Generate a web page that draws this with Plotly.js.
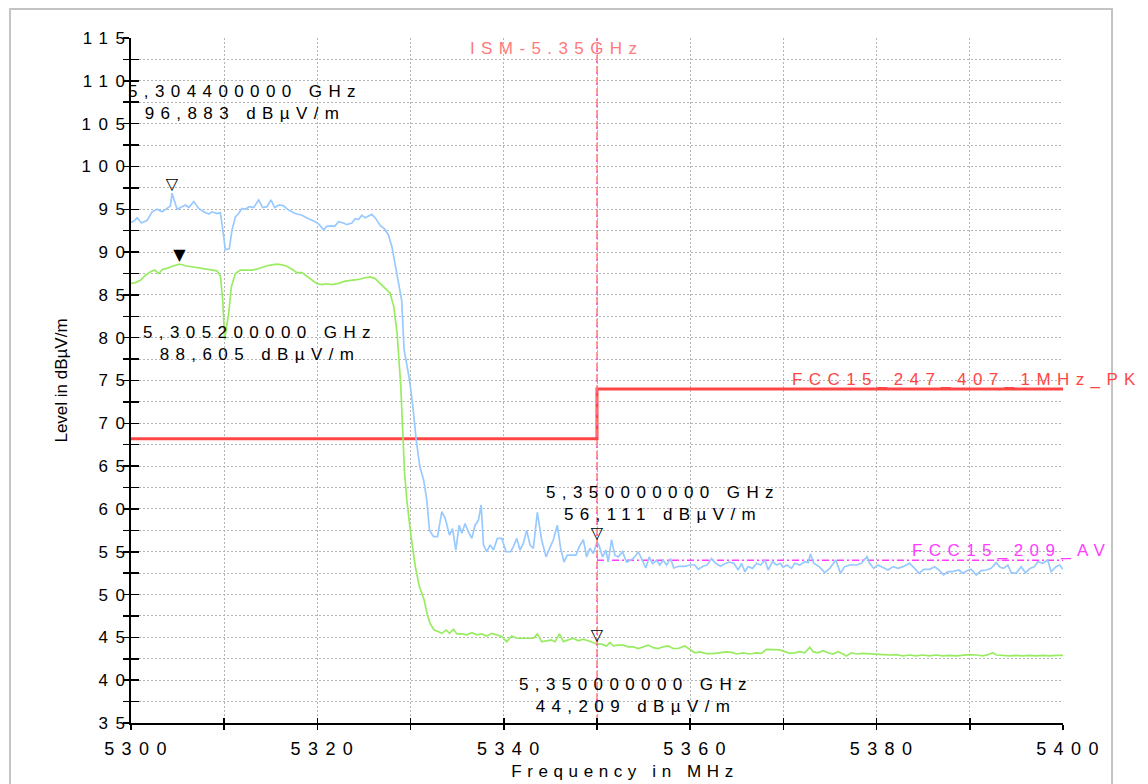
<!DOCTYPE html>
<html>
<head>
<meta charset="utf-8">
<script src="https://cdn.plot.ly/plotly-3.0.1.min.js"></script>
<style>
html, body { margin: 0; padding: 0; background: #ffffff; }
#chart { width: 1148px; height: 784px; }
.xtick text { letter-spacing: 7.4px; }
.ytick text { letter-spacing: 7.6px; }
.g-xtitle text { letter-spacing: 5.6px; }
.annotation-text { letter-spacing: 6.4px; }
.g-xtitle { transform: translate(28px, -4px); }
</style>
</head>
<body>
<div id="chart"></div>
<script>
// ---- Peak detector trace (blue) ----
const peakFreq = [
  5300.0, 5300.3, 5300.66, 5301.12, 5301.73, 5302.27, 5302.8, 5303.34, 5303.87, 5304.23,
  5304.4, 5304.95, 5305.48, 5305.84, 5306.2, 5306.73, 5307.27, 5307.8, 5308.34, 5308.7,
  5309.23, 5309.59, 5309.95, 5310.12, 5310.55, 5310.84, 5311.2, 5311.55, 5311.9, 5312.27,
  5312.7, 5313.16, 5313.7, 5314.12, 5314.59, 5315.02, 5315.41, 5315.91, 5316.37, 5316.91,
  5317.62, 5318.34, 5319.05, 5319.77, 5320.2, 5320.66, 5321.02, 5321.48, 5321.84, 5322.27,
  5322.8, 5323.16, 5323.7, 5324.05, 5324.41, 5324.77, 5325.12, 5325.48, 5325.84, 5326.27,
  5326.73, 5327.2, 5327.62, 5328.0, 5328.5, 5329.05, 5329.3, 5329.88, 5330.24, 5330.6,
  5331.0, 5331.4, 5331.74, 5332.03, 5332.46, 5332.89, 5333.35, 5333.71, 5334.17, 5334.5,
  5334.85, 5335.21, 5335.5, 5335.85, 5336.21, 5336.57, 5336.92, 5337.28, 5337.57, 5337.82,
  5338.17, 5338.53, 5338.89, 5339.31, 5339.78, 5340.24, 5340.74, 5341.03, 5341.39, 5341.74,
  5342.1, 5342.46, 5342.81, 5343.17, 5343.6, 5344.06, 5344.53, 5344.96, 5345.31, 5345.74,
  5346.1, 5346.46, 5346.81, 5347.28, 5347.74, 5348.1, 5348.53, 5348.89, 5349.24, 5349.6,
  5350.0, 5350.2, 5350.6, 5350.96, 5351.2, 5351.56, 5351.92, 5352.28, 5352.74, 5353.17,
  5353.6, 5354.06, 5354.42, 5354.78, 5355.24, 5355.6, 5355.96, 5356.39, 5356.74, 5357.1,
  5357.46, 5357.89, 5358.24, 5358.81, 5359.42, 5359.96, 5360.5, 5360.85, 5361.39, 5361.81,
  5362.28, 5362.74, 5363.24, 5363.71, 5364.17, 5364.69, 5365.15, 5365.51, 5365.87, 5366.22,
  5366.69, 5367.12, 5367.55, 5368.01, 5368.37, 5368.83, 5369.26, 5369.69, 5369.97, 5370.4,
  5370.87, 5371.22, 5371.76, 5372.29, 5372.65, 5372.9, 5373.26, 5373.83, 5374.44, 5374.97,
  5375.62, 5376.12, 5376.58, 5377.12, 5377.83, 5378.37, 5378.97, 5379.26, 5379.69, 5380.15,
  5380.69, 5381.22, 5381.76, 5382.3, 5382.83, 5383.55, 5384.08, 5384.55, 5385.05, 5385.69,
  5386.22, 5386.69, 5387.19, 5387.65, 5388.12, 5388.83, 5389.26, 5389.69, 5390.15, 5390.69,
  5391.22, 5391.76, 5392.3, 5392.83, 5393.26, 5393.62, 5394.08, 5394.44, 5394.97, 5395.51,
  5395.97, 5396.47, 5396.94, 5397.3, 5397.83, 5398.37, 5398.72, 5399.26, 5399.62, 5400.0
];
const peakLevel = [
  93.5, 93.6, 94.0, 93.4, 93.7, 94.7, 95.0, 94.7, 95.1, 95.4,
  96.88, 95.0, 95.3, 95.5, 95.2, 95.9, 95.1, 94.7, 94.45, 94.7,
  94.5, 94.6, 91.8, 90.25, 90.4, 92.6, 94.1, 94.5, 95.1, 95.0,
  95.3, 95.2, 96.1, 95.2, 95.3, 96.1, 95.2, 95.5, 95.4, 94.9,
  94.5, 94.3, 93.9, 93.55, 93.2, 92.6, 93.0, 93.05, 93.0, 93.55,
  93.4, 93.2, 93.4, 93.9, 93.8, 94.3, 94.0, 94.2, 94.4, 93.9,
  93.1, 92.7, 92.0, 90.6, 87.7, 84.3, 78.6, 75.1, 72.0, 68.05,
  64.9, 63.4, 61.0, 57.5, 56.76, 56.76, 59.68, 58.9, 56.95, 57.7,
  55.2, 58.1, 57.15, 58.3, 57.3, 56.56, 58.1, 58.7, 60.46, 55.8,
  55.0, 55.8, 55.2, 56.56, 56.56, 55.0, 55.0, 55.6, 56.56, 55.2,
  56.0, 57.5, 55.8, 55.4, 59.6, 56.4, 54.4, 55.6, 56.4, 58.1,
  55.4, 53.8, 54.6, 54.6, 54.6, 55.6, 56.4, 54.4, 55.4, 54.8,
  56.11, 55.8, 54.4, 55.2, 53.8, 56.4, 54.6, 54.4, 55.0, 53.8,
  54.0, 54.4, 55.0, 54.2, 53.1, 54.4, 53.6, 54.0, 53.45, 54.0,
  53.45, 54.2, 53.1, 53.3, 53.3, 53.45, 53.45, 52.95, 53.3, 53.45,
  54.2, 53.65, 53.3, 53.6, 53.8, 53.65, 52.87, 53.65, 52.67, 53.26,
  53.06, 53.65, 53.45, 54.04, 52.87, 53.84, 53.45, 53.65, 53.18, 53.45,
  53.06, 53.65, 53.45, 53.84, 53.73, 54.74, 53.65, 53.26, 52.56, 53.06,
  54.04, 52.48, 53.26, 53.45, 53.45, 53.65, 54.43, 53.65, 53.06, 53.45,
  53.18, 52.87, 53.26, 53.06, 53.26, 53.65, 53.06, 52.48, 52.95, 52.95,
  53.26, 52.87, 52.29, 52.67, 52.67, 52.87, 52.48, 52.79, 52.95, 52.29,
  52.79, 52.87, 53.06, 53.73, 53.18, 53.06, 53.45, 52.56, 52.48, 53.26,
  52.56, 53.06, 53.26, 53.84, 53.65, 54.04, 52.67, 53.26, 53.45, 52.95
];

// ---- Average detector trace (green) ----
const avgFreq = [
  5300.0, 5300.4, 5301.02, 5301.55, 5302.09, 5302.55, 5302.98, 5303.41, 5303.87, 5304.41,
  5304.95, 5305.2, 5305.84, 5306.37, 5306.91, 5307.45, 5307.98, 5308.7, 5309.23, 5309.59,
  5309.84, 5310.05, 5310.48, 5310.77, 5311.2, 5311.73, 5312.27, 5312.98, 5313.5, 5314.05,
  5314.59, 5315.12, 5315.66, 5316.2, 5316.73, 5317.27, 5317.8, 5318.34, 5318.88, 5319.41,
  5319.95, 5320.5, 5321.02, 5321.55, 5322.27, 5322.98, 5323.7, 5324.41, 5325.12, 5325.66,
  5326.2, 5326.73, 5327.27, 5327.8, 5328.2, 5328.55, 5328.95, 5329.2, 5329.35, 5329.6,
  5330.0, 5330.5, 5330.95, 5331.45, 5331.8, 5332.1, 5332.53, 5333.0, 5333.35, 5333.82,
  5334.17, 5334.6, 5334.96, 5335.5, 5336.03, 5336.57, 5337.1, 5337.64, 5338.17, 5338.71,
  5339.24, 5339.78, 5340.31, 5340.85, 5341.39, 5341.92, 5342.46, 5343.17, 5343.6, 5344.06,
  5344.6, 5345.1, 5345.5, 5345.96, 5346.39, 5346.92, 5347.46, 5347.99, 5348.53, 5349.06,
  5349.6, 5350.0, 5350.5, 5351.03, 5351.39, 5351.74, 5352.28, 5352.81, 5353.35, 5353.9,
  5354.42, 5354.96, 5355.5, 5356.03, 5356.56, 5357.1, 5357.64, 5358.17, 5358.71, 5359.42,
  5359.96, 5360.5, 5361.03, 5361.74, 5362.46, 5363.17, 5363.9, 5364.5, 5364.97, 5365.69,
  5366.4, 5367.12, 5367.65, 5368.19, 5368.9, 5369.62, 5370.15, 5370.69, 5371.22, 5371.76,
  5372.29, 5372.83, 5373.19, 5373.72, 5374.26, 5374.79, 5375.33, 5375.87, 5376.4, 5376.76,
  5377.3, 5377.83, 5378.55, 5379.26, 5379.97, 5380.69, 5381.4, 5382.12, 5382.83, 5383.55,
  5384.26, 5384.97, 5385.69, 5386.4, 5387.12, 5387.83, 5388.55, 5389.26, 5389.97, 5390.69,
  5391.4, 5391.94, 5392.47, 5392.83, 5393.55, 5394.26, 5394.97, 5395.69, 5396.4, 5397.12,
  5397.83, 5398.55, 5399.26, 5400.0
];
const avgLevel = [
  86.35, 86.4, 86.7, 87.3, 87.7, 87.9, 87.5, 88.0, 88.1, 88.35,
  88.5, 88.6, 88.4, 88.3, 88.2, 88.1, 88.0, 87.9, 87.8, 87.2,
  84.4, 79.8, 82.85, 85.97, 87.5, 87.9, 87.9, 87.9, 88.0, 88.2,
  88.4, 88.5, 88.58, 88.5, 88.35, 88.0, 87.6, 87.6, 87.2, 86.8,
  86.3, 86.2, 86.3, 86.2, 86.35, 86.6, 86.7, 86.8, 87.0, 87.1,
  86.9, 86.3, 85.8, 85.2, 83.6, 80.5, 74.3, 68.8, 64.2, 61.0,
  57.2, 53.3, 50.9, 49.4, 47.6, 46.6, 45.86, 45.66, 45.47, 45.86,
  45.47, 45.94, 45.4, 45.4, 45.3, 45.55, 45.3, 45.4, 45.16, 45.47,
  45.3, 45.1, 44.5, 45.16, 44.9, 44.9, 44.9, 44.9, 45.4, 44.5,
  44.6, 44.7, 44.5, 45.4, 44.5, 44.7, 44.9, 44.6, 44.8, 44.6,
  44.4, 44.21, 44.2, 44.0, 44.4, 44.0, 44.1, 44.1, 43.9, 43.9,
  43.7, 43.9, 44.1, 43.8, 43.7, 43.9, 44.0, 43.7, 43.7, 44.0,
  43.6, 43.2, 43.3, 43.1, 43.1, 43.2, 43.3, 43.25, 43.06, 43.2,
  43.06, 43.2, 43.14, 43.6, 43.6, 43.53, 43.33, 43.14, 43.2, 43.33,
  43.2, 43.84, 43.33, 43.2, 43.45, 43.2, 43.06, 43.33, 43.06, 42.83,
  43.2, 43.06, 43.14, 43.06, 43.06, 42.98, 42.94, 42.98, 42.83, 42.94,
  42.83, 42.94, 42.83, 42.94, 42.83, 42.9, 42.83, 42.94, 42.98, 42.94,
  42.83, 42.98, 43.2, 42.94, 42.9, 42.83, 42.9, 42.83, 42.9, 42.83,
  42.9, 42.83, 42.9, 42.9
];

// ---- Limit lines ----
const limitPkName = 'FCC15_247_407_1MHz_PK';
const limitPkFreq = [5300, 5350, 5350, 5400];
const limitPkLevel = [68.2, 68.2, 74, 74];
const limitAvName = 'FCC15_209_AV';
const limitAvFreq = [5350, 5400];
const limitAvLevel = [54, 54];
const ismName = 'ISM-5.35GHz';
const ismFreq = [5350, 5350];
const ismLevel = [35, 115];

// ---- Markers ----
const markerFreq = [5304.4, 5305.2, 5350, 5350];
const markerLevel = [96.883, 88.605, 56.111, 44.209];
const markerSymbol = ['\u25BD', '\u25BC', '\u25BD', '\u25BD'];

// ---- Axis ticks ----
const xTickVals = [5300, 5320, 5340, 5360, 5380, 5400];
const yTickVals = [35, 40, 45, 50, 55, 60, 65, 70, 75, 80, 85, 90, 95, 100, 105, 110, 115];

const fmtFreq = f => (f / 1000).toFixed(9).replace('.', ',') + ' GHz';
const fmtLevel = v => v.toFixed(3).replace('.', ',') + ' dB\u00B5V/m';

const FONT = 'Liberation Sans, Arial, sans-serif';
const GRID = '#b4b4b4';

const traces = [
  { x: limitPkFreq, y: limitPkLevel, mode: 'lines', line: { color: '#ff4646', width: 3 }, hoverinfo: 'skip' },
  { x: limitAvFreq, y: limitAvLevel, mode: 'lines', line: { color: '#ff3cff', width: 1.5, dash: '7px,3px,2px,3px' }, hoverinfo: 'skip' },
  { x: peakFreq, y: peakLevel, mode: 'lines', line: { color: '#98c9ff', width: 1.7 }, name: 'Peak' },
  { x: avgFreq, y: avgLevel, mode: 'lines', line: { color: '#99ec62', width: 1.7 }, name: 'Average' },
  { x: ismFreq, y: ismLevel, mode: 'lines', line: { color: '#ff7c7c', width: 1.5, dash: '8px,3px' }, hoverinfo: 'skip' },
  { x: ismFreq, y: ismLevel, mode: 'lines', line: { color: '#ff40ff', width: 1, dash: '2px,9px' }, hoverinfo: 'skip' },
  { x: markerFreq, y: markerLevel, mode: 'text', text: markerSymbol, textposition: 'top center',
    textfont: { family: 'DejaVu Sans', size: 16, color: '#000000' }, hoverinfo: 'skip' },
  { x: [], y: [], xaxis: 'x2', yaxis: 'y2', mode: 'lines', hoverinfo: 'skip' }
];

const labelPos = [
  { x: 5311.9, y: 107.47 },
  { x: 5313.5, y: 79.32 },
  { x: 5356.8, y: 60.63 },
  { x: 5353.9, y: 38.27 }
];

const annotations = markerFreq.map((f, i) => ({
  x: labelPos[i].x, y: labelPos[i].y, xref: 'x', yref: 'y',
  text: fmtFreq(f) + '<br>' + fmtLevel(markerLevel[i]),
  showarrow: false, xanchor: 'center', yanchor: 'middle', xshift: 3,
  font: { family: FONT, size: 17, color: '#000000' }
}));
annotations.push(
  { x: 5345.3, y: 113.83, xref: 'x', yref: 'y', text: ismName, showarrow: false,
    xanchor: 'center', yanchor: 'middle', xshift: 3, font: { family: FONT, size: 17, color: '#ff7a7a' } },
  { x: 5389.9, y: 75.1, xref: 'x', yref: 'y', text: limitPkName, showarrow: false,
    xanchor: 'center', yanchor: 'middle', xshift: -2, font: { family: FONT, size: 17, color: '#ff4646' } },
  { x: 5394.2, y: 55.1, xref: 'x', yref: 'y', text: limitAvName, showarrow: false,
    xanchor: 'center', yanchor: 'middle', xshift: 3, font: { family: FONT, size: 17, color: '#ff3cff' } }
);

const layout = {
  width: 1148, height: 784,
  margin: { l: 131, r: 85, t: 38, b: 61 },
  paper_bgcolor: '#ffffff', plot_bgcolor: '#ffffff',
  showlegend: false,
  font: { family: FONT, color: '#000000' },
  xaxis: {
    range: [5300, 5400], tickmode: 'array', tickvals: xTickVals,
    ticks: 'outside', ticklen: 5, tickwidth: 1.5, tickcolor: '#000000',
    tickfont: { size: 18 }, ticklabelshift: 8, ticklabelstandoff: 3,
    showline: true, linewidth: 2, linecolor: '#000000',
    showgrid: true, gridcolor: GRID, gridwidth: 1, griddash: '2px,2px', zeroline: false,
    minor: { tickmode: 'linear', tick0: 5300, dtick: 10, ticks: 'outside', ticklen: 5, tickwidth: 1.5,
             tickcolor: '#000000', showgrid: true, gridcolor: GRID, gridwidth: 1, griddash: '2px,2px' },
    title: { text: 'Frequency in MHz', font: { size: 17 }, standoff: 12 }
  },
  yaxis: {
    range: [35, 115], tickmode: 'array', tickvals: yTickVals,
    ticks: 'outside', ticklen: 6, tickwidth: 1.5, tickcolor: '#000000',
    tickfont: { size: 17 }, ticklabelstandoff: -13,
    showline: true, linewidth: 2, linecolor: '#000000',
    showgrid: true, gridcolor: GRID, gridwidth: 1, griddash: '2px,2px', zeroline: false,
    minor: { tickmode: 'linear', tick0: 35, dtick: 2.5, ticks: 'outside', ticklen: 6, tickwidth: 1.5,
             tickcolor: '#000000', showgrid: true, gridcolor: GRID, gridwidth: 1, griddash: '2px,2px' },
    title: { text: 'Level in dB\u00B5V/m', font: { size: 17 }, standoff: 9 }
  },
  xaxis2: {
    overlaying: 'x', anchor: 'y', side: 'bottom', range: [5300, 5400],
    tickmode: 'linear', tick0: 5300, dtick: 10, ticks: 'inside', ticklen: 5, tickwidth: 1.5,
    tickcolor: '#000000', showticklabels: false, showgrid: false, showline: false, zeroline: false
  },
  yaxis2: {
    overlaying: 'y', anchor: 'x', side: 'left', range: [35, 115],
    tickmode: 'linear', tick0: 35, dtick: 2.5, ticks: 'inside', ticklen: 8, tickwidth: 1.5,
    tickcolor: '#000000', showticklabels: false, showgrid: false, showline: false, zeroline: false
  },
  shapes: [
    { type: 'rect', xref: 'paper', yref: 'paper', x0: -0.1298, x1: 1.0526, y0: -0.1, y1: 1.0423,
      line: { color: '#c4c4c4', width: 2 }, fillcolor: 'rgba(0,0,0,0)', layer: 'below' }
  ],
  annotations: annotations
};

Plotly.newPlot('chart', traces, layout, { displayModeBar: false, staticPlot: true });
</script>
</body>
</html>
